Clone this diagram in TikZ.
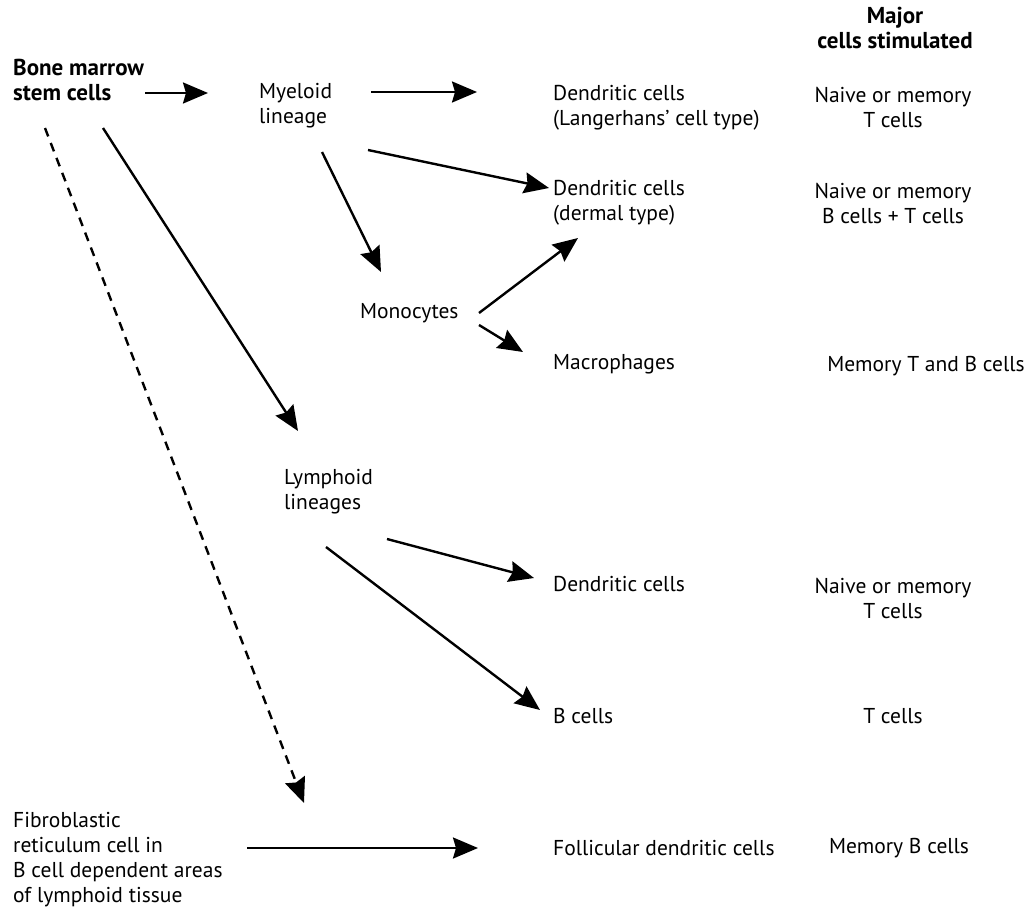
\documentclass[tikz,border=0pt]{standalone}
\usepackage{fontspec}
\setmainfont{PT Sans}
\usetikzlibrary{arrows.meta}
\usetikzlibrary{positioning}

\begin{document}
\begin{tikzpicture}[x=1pt,y=-1pt,
            -{Stealth[length=25pt,width=21pt,inset=3pt]},
            line width=2.4pt,
            every node/.style = {inner sep=0pt,
                font=\fontsize{21.5}{25}\selectfont},
            txt/.style = {anchor=west,align=left},
            col/.style = {align=center},
            head/.style = {align=center,
                font=\fontsize{23}{25}\selectfont\bfseries},
            dashline/.style = {dash pattern=on 9pt off 7pt}]
            \useasboundingbox (0,0) rectangle (1032,910);
            \node[head] (major) at (895,28) {Major\\cells stimulated};
            \node[txt,font=\fontsize{23}{25}\selectfont\bfseries] (bone) at (12,80) {Bone marrow\\stem cells};
            \node[txt] (mye) at (258,106) {Myeloid\\lineage};
            \node[txt] (dc1) at (552,108) {Dendritic cells\\(Langerhans' cell type)};
            \node[col] (s1) at (893,107) {Naive or memory\\T cells};
            \node[txt] (dc2) at (552,203) {Dendritic cells\\(dermal type)};
            \node[col] (s2) at (893,203) {Naive or memory\\B cells + T cells};
            \node[txt] (mono) at (359,313) {Monocytes};
            \node[txt] (mac) at (552,364) {Macrophages};
            \node[col] (s3) at (926,366) {Memory T and B cells};
            \node[txt] (lym) at (283,492) {Lymphoid\\lineages};
            \node[txt] (dc3) at (552,584) {Dendritic cells};
            \node[col] (s4) at (893,598) {Naive or memory\\T cells};
            \node[txt] (bc) at (552,716) {B cells};
            \node[col] (s5) at (893,716) {T cells};
            \node[txt] (fib) at (12,860) {Fibroblastic\\reticulum cell in\\B cell dependent areas\\of lymphoid tissue};
            \node[txt] (fdc) at (552,848) {Follicular dendritic cells};
            \node[col] (s6) at (899,848) {Memory B cells};
            \draw ([shift={(133,13)}]bone.west) -- ([shift={(-50,-13)}]mye.west);
            \draw ([shift={(113,-14)}]mye.west) -- ([shift={(-75,-16)}]dc1.west);
            \draw ([shift={(110,44)}]mye.west) -- ([shift={(-3,-15)}]dc2.west);
            \draw ([shift={(64,46)}]mye.west) -- ([shift={(22,-41)}]mono.west);
            \draw ([shift={(120,0)}]mono.west) -- ([shift={(26,35)}]dc2.west);
            \draw ([shift={(120,12)}]mono.west) -- ([shift={(-29,-12)}]mac.west);
            \draw ([shift={(91,48)}]bone.west) -- ([shift={(15,-61)}]lym.west);
            \draw ([shift={(104,47)}]lym.west) -- ([shift={(-18,-6)}]dc3.west);
            \draw ([shift={(43,55)}]lym.west) -- ([shift={(-12,-6)}]bc.west);
            \draw[dashline] ([shift={(33,48)}]bone.west) -- ([shift={(292,-57)}]fib.west);
            \draw ([shift={(235,-12)}]fib.west) -- ([shift={(-74,0)}]fdc.west);
        \end{tikzpicture}
\end{document}
